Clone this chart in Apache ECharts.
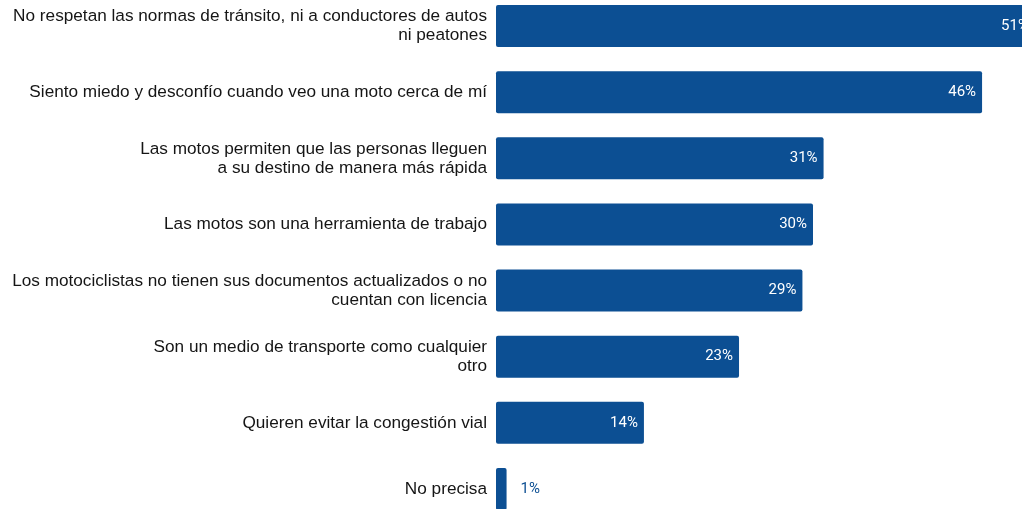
<!DOCTYPE html>
<html><head><meta charset="utf-8">
<script src="https://cdn.jsdelivr.net/npm/echarts@6/dist/echarts.min.js"></script>
<style>html,body{margin:0;padding:0;background:#fff}#c{width:1022px;height:509px}</style>
</head><body><div id="c"></div>
<script>
const categories = [
  "No respetan las normas de tránsito, ni a conductores de autos\nni peatones",
  "Siento miedo y desconfío cuando veo una moto cerca de mí",
  "Las motos permiten que las personas lleguen\na su destino de manera más rápida",
  "Las motos son una herramienta de trabajo",
  "Los motociclistas no tienen sus documentos actualizados o no\ncuentan con licencia",
  "Son un medio de transporte como cualquier\notro",
  "Quieren evitar la congestión vial",
  "No precisa"
];
const values = [51, 46, 31, 30, 29, 23, 14, 1];
const barColor = '#0c4f93';
const chart = echarts.init(document.getElementById('c'));
chart.setOption({
  animation: false,
  grid: { left: 496, top: -7, width: 634, height: 529, outerBoundsMode: 'none', containLabel: false },
  xAxis: { type: 'value', min: 0, max: 60, show: false },
  yAxis: {
    type: 'category', inverse: true, data: categories,
    axisLine: { show: false }, axisTick: { show: false },
    axisLabel: { color: '#151515', fontFamily: 'Liberation Sans', fontSize: 17.2, lineHeight: 19, margin: 9, align: 'right' }
  },
  series: [{
    type: 'bar', barWidth: 42,
    data: values.map(v => ({
      value: v,
      label: v < 5 ? { position: 'right', color: barColor, distance: 14 } : {}
    })),
    itemStyle: { color: barColor, borderRadius: 2 },
    label: { show: true, position: 'insideRight', distance: 6, color: '#fff', fontFamily: 'Roboto', fontSize: 15, formatter: '{c}%' }
  }]
});
</script></body></html>
